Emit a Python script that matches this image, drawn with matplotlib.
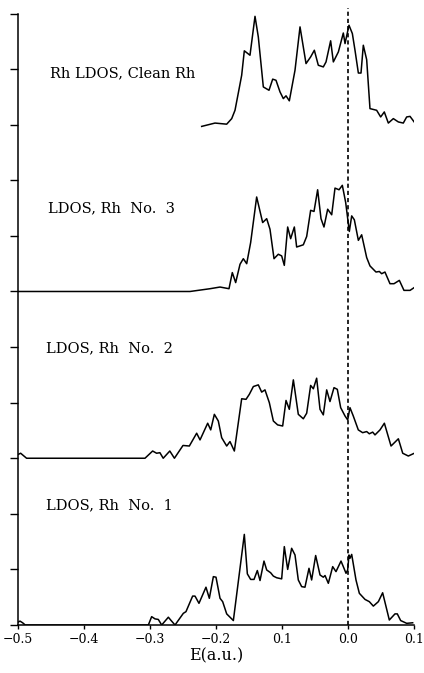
import matplotlib
matplotlib.use("Agg")
import matplotlib.pyplot as plt


# energy (a.u.) and LDOS values, one pair of lists per curve
e_no1 = [-0.5, -0.497, -0.493, -0.489, -0.3025, -0.2975, -0.2924, -0.2874, -0.2823,
         -0.2722, -0.2687, -0.2621, -0.2495, -0.2455, -0.2354, -0.2318, -0.2258,
         -0.2152, -0.2101, -0.204, -0.2, -0.1939, -0.1899, -0.1838, -0.1737,
         -0.1571, -0.1525, -0.1475, -0.1424, -0.1374, -0.1333, -0.1273, -0.1232,
         -0.1172, -0.1131, -0.1081, -0.1005, -0.0965, -0.0914, -0.0854, -0.0803,
         -0.0753, -0.0702, -0.0652, -0.0591, -0.0551, -0.049, -0.0424, -0.0374,
         -0.0348, -0.0298, -0.0232, -0.0182, -0.0106, -0.0071, -0.003, -0.0005,
         0.0015, 0.003, 0.0056, 0.0121, 0.0172, 0.0258, 0.0323, 0.0384, 0.046,
         0.0525, 0.0626, 0.0712, 0.0747, 0.0798, 0.0889, 0.098]
ldos_no1 = [0.05, 0.07, 0.04, 0.0, 0.0, 0.15, 0.11, 0.10, 0.0,
            0.14, 0.09, 0.0, 0.21, 0.24, 0.52, 0.52, 0.39,
            0.68, 0.48, 0.87, 0.86, 0.48, 0.42, 0.20, 0.08,
            1.63, 0.92, 0.82, 0.82, 0.98, 0.80, 1.15, 0.99,
            0.94, 0.88, 0.85, 0.83, 1.41, 1.00, 1.38, 1.26,
            0.81, 0.69, 0.68, 1.02, 0.81, 1.25, 0.90, 0.86,
            0.89, 0.75, 1.05, 0.96, 1.15, 1.05, 0.93, 0.99,
            1.26, 1.20, 1.27, 0.81, 0.57, 0.46, 0.42, 0.34, 0.42,
            0.58, 0.09, 0.20, 0.20, 0.08, 0.03, 0.04]

e_no2 = [-0.4995, -0.496, -0.487, -0.3076, -0.296, -0.29, -0.285, -0.28, -0.27,
         -0.263, -0.25, -0.2404, -0.2293, -0.2242, -0.2126, -0.208, -0.2025,
         -0.1965, -0.1914, -0.1838, -0.1788, -0.1722, -0.1611, -0.1545, -0.1495,
         -0.1434, -0.1359, -0.1308, -0.1258, -0.1192, -0.1131, -0.1066, -0.099,
         -0.0939, -0.0889, -0.0828, -0.0753, -0.0677, -0.0626, -0.0566, -0.0525,
         -0.0475, -0.0424, -0.0374, -0.0323, -0.0273, -0.0212, -0.0162, -0.0111,
         -0.0045, -0.0005, 0.003, 0.008, 0.0156, 0.0222, 0.0283, 0.0323, 0.0374,
         0.0409, 0.0485, 0.0551, 0.0652, 0.0763, 0.0829, 0.0914, 0.1005]
ldos_no2 = [0.07, 0.09, 0.0, 0.0, 0.13, 0.09, 0.10, 0.0, 0.13,
            0.0, 0.23, 0.22, 0.45, 0.33, 0.63, 0.51, 0.79,
            0.67, 0.37, 0.22, 0.30, 0.13, 1.07, 1.06, 1.15,
            1.29, 1.32, 1.19, 1.23, 1.00, 0.67, 0.60, 0.58,
            1.04, 0.88, 1.41, 0.79, 0.71, 0.81, 1.31, 1.25,
            1.44, 0.88, 0.78, 1.23, 1.02, 1.27, 1.24, 0.91,
            0.76, 0.69, 0.91, 0.76, 0.51, 0.46, 0.48, 0.44, 0.47,
            0.42, 0.51, 0.63, 0.22, 0.35, 0.09, 0.04, 0.09]

e_no3 = [-0.5, -0.2394, -0.209, -0.1939, -0.1803, -0.1753, -0.1702, -0.1636,
         -0.1586, -0.1535, -0.1475, -0.1384, -0.1293, -0.1232, -0.1182, -0.1121,
         -0.1056, -0.1005, -0.0965, -0.0914, -0.0869, -0.0813, -0.0778, -0.0677,
         -0.0626, -0.0566, -0.0515, -0.046, -0.0409, -0.0364, -0.0308, -0.0247,
         -0.0197, -0.0136, -0.0086, -0.0035, 0.002, 0.0056, 0.0096, 0.0157,
         0.0207, 0.0283, 0.0333, 0.0424, 0.0475, 0.051, 0.056, 0.0636, 0.0697,
         0.0778, 0.0848, 0.094, 0.1015]
ldos_no3 = [0.0, 0.0, 0.05, 0.08, 0.05, 0.34, 0.16, 0.49,
            0.59, 0.50, 0.88, 1.70, 1.24, 1.31, 1.12, 0.59,
            0.67, 0.64, 0.47, 1.16, 0.95, 1.16, 0.80, 0.84,
            0.99, 1.46, 1.44, 1.83, 1.31, 1.16, 1.48, 1.38,
            1.86, 1.83, 1.91, 1.60, 1.08, 1.36, 1.29, 0.92,
            1.02, 0.61, 0.46, 0.35, 0.36, 0.32, 0.35, 0.14, 0.14,
            0.20, 0.02, 0.02, 0.08]

e_clean = [-0.2217, -0.2015, -0.1838, -0.1762, -0.1712, -0.1646, -0.1611, -0.1571,
           -0.1485, -0.1409, -0.1359, -0.1283, -0.1197, -0.1141, -0.1091, -0.103,
           -0.098, -0.0939, -0.0889, -0.0803, -0.0727, -0.0636, -0.0566, -0.051,
           -0.045, -0.0374, -0.0333, -0.0263, -0.0222, -0.0146, -0.0071, -0.0045,
           0.0015, 0.0066, 0.0106, 0.0157, 0.0197, 0.0232, 0.0283, 0.0333, 0.0434,
           0.0495, 0.055, 0.0611, 0.0687, 0.0763, 0.0838, 0.0889, 0.094, 0.1015]
ldos_clean = [-0.03, 0.03, 0.01, 0.11, 0.26, 0.67, 0.89, 1.33,
              1.25, 1.95, 1.58, 0.68, 0.62, 0.82, 0.80, 0.59,
              0.47, 0.52, 0.43, 0.98, 1.76, 1.10, 1.22, 1.34,
              1.07, 1.04, 1.13, 1.51, 1.13, 1.31, 1.65, 1.46,
              1.79, 1.64, 1.34, 0.93, 0.93, 1.43, 1.17, 0.29, 0.26,
              0.14, 0.23, 0.03, 0.11, 0.05, 0.03, 0.14, 0.15, 0.03]

offsets = [0, 3, 6, 9]
labels = ["LDOS, Rh  No.  1", "LDOS, Rh  No.  2", "LDOS, Rh  No.  3", "Rh LDOS, Clean Rh"]
label_y = [2.16, 4.98, 7.5, 9.93]
label_x = [-0.4576, -0.4576, -0.4545, -0.4515]
x_ticks = [-0.5, -0.4, -0.3, -0.2, -0.1, 0.0, 0.1]
x_tick_labels = ["\u22120.5", "\u22120.4", "\u22120.3", "\u22120.2", "0.1", "0.0", "0.1"]

fig = plt.figure(figsize=(4.24, 6.73), dpi=100)
ax = fig.add_axes([18 / 424, 48 / 673, 396 / 424, 617 / 673])

curves = [(e_no1, ldos_no1), (e_no2, ldos_no2), (e_no3, ldos_no3), (e_clean, ldos_clean)]
for (e, v), off in zip(curves, offsets):
    ax.plot(e, [off + val for val in v], color="black", lw=1.1)

for x, y, txt in zip(label_x, label_y, labels):
    ax.text(x, y, txt, fontsize=10.5, family="DejaVu Serif", va="center", ha="left")

# Fermi level
ax.axvline(0.0, color="black", lw=1.2, ls=(0, (2.5, 1.8)))

ax.set_xlim(-0.5, 0.1)
ax.set_ylim(0, 11.1)
ax.spines["top"].set_visible(False)
ax.spines["right"].set_visible(False)
ax.spines["left"].set_bounds(0, 11)
for s in ("left", "bottom"):
    ax.spines[s].set_linewidth(1.1)

ax.set_xticks(x_ticks)
ax.set_xticklabels(x_tick_labels, family="DejaVu Serif", fontsize=9)
ax.set_yticks(range(12))
ax.set_yticklabels([])
ax.tick_params(axis="y", length=6, width=1.0, direction="out")
ax.tick_params(axis="x", length=3, width=1.0, direction="out", pad=3)
ax.set_xlabel("E(a.u.)", family="DejaVu Serif", fontsize=11.5, labelpad=1)

fig.savefig("out.png", dpi=100)
